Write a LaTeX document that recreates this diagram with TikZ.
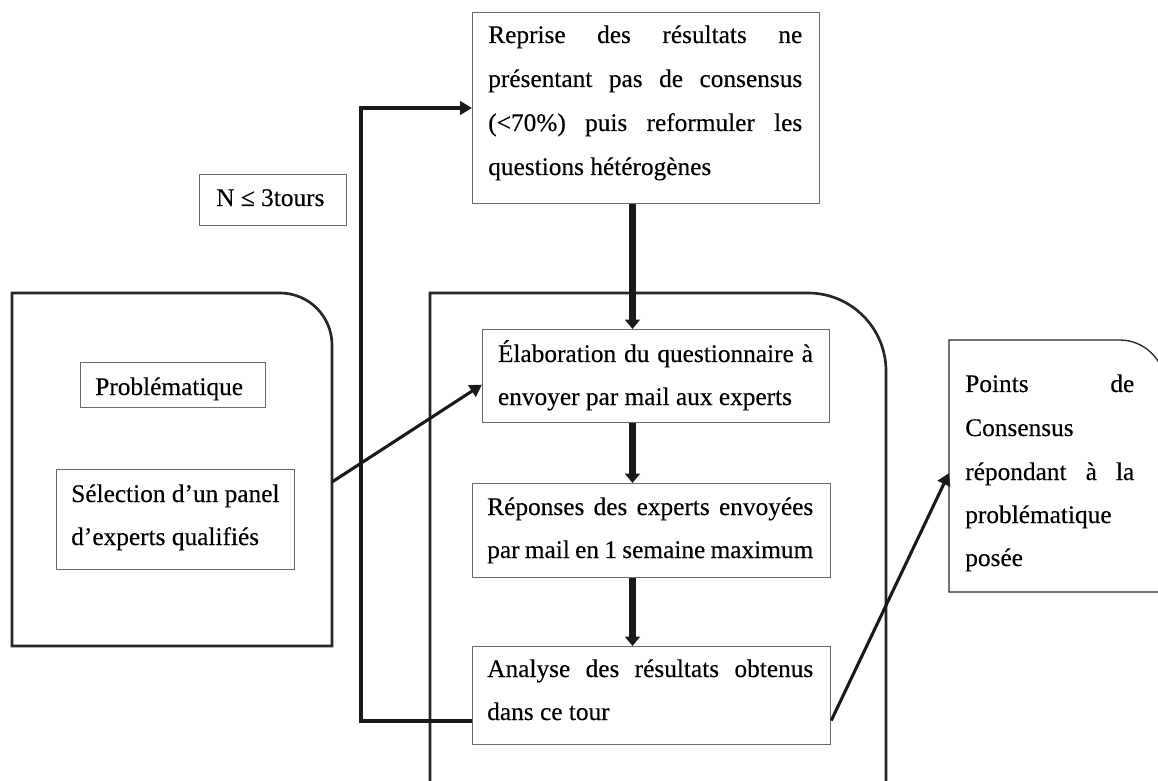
\documentclass[tikz,border=0pt]{standalone}
\usepackage{fontspec}
\setmainfont{Liberation Serif}[FakeBold=0.3]
\usetikzlibrary{arrows.meta}
\definecolor{boxgray}{HTML}{6A6A6A}
\definecolor{panelc}{HTML}{262626}
\begin{document}
\begin{tikzpicture}[x=0.75pt,y=-0.75pt,
  box/.style={draw=boxgray,line width=0.9pt,inner sep=0pt,anchor=north west},
  txt/.style={inner sep=0pt,anchor=base west,font=\fontsize{19}{33}\selectfont},
  panel/.style={draw=panelc,line width=2pt},
  link/.style={draw=black!90,line width=2.3pt,-{Triangle[length=9pt,width=10pt]}},
  flow/.style={draw=black!90,line width=5pt,-{Triangle[length=7pt,width=11pt]}}]
\useasboundingbox (0,0) rectangle (1158,781);
\clip (0,0) rectangle (1158,781);

% panels
\draw[panel] (12,646) -- (12,293) [rounded corners=39pt] -- (332,293) [rounded corners=0pt] -- (332,646) -- cycle;
\draw[panel] (430,785) -- (430,293) [rounded corners=58.5pt] -- (886,293) [rounded corners=0pt] -- (886,785);
\draw[draw=black!85,line width=1pt] (949,592) -- (949,340) [rounded corners=34pt] -- (1165,340) [rounded corners=0pt] -- (1165,592) -- cycle;

% boxes
\node[box,minimum width=260.25pt,minimum height=143.25pt] (top) at (472,12) {};
\node[box,minimum width=260.25pt,minimum height=69.75pt] (elab) at (482,329) {};
\node[box,minimum width=268.5pt,minimum height=70.5pt] (rep) at (472,483) {};
\node[box,minimum width=268.5pt,minimum height=73.5pt] (ana) at (472,646) {};
\node[box,minimum width=138.75pt,minimum height=33.75pt] (prob) at (80,362) {};
\node[box,minimum width=178.5pt,minimum height=75pt] (sel) at (56,469) {};
\node[box,minimum width=110.25pt,minimum height=38.25pt] (ntours) at (199,174) {};

% texts
\node[txt] (t1) at (488,43) {\makebox[235.5pt][s]{Reprise des résultats ne}};
\node[txt] (t2) at (488,87) {\makebox[235.5pt][s]{présentant pas de consensus}};
\node[txt] (t3) at (488,131) {\makebox[235.5pt][s]{(<70\%) puis reformuler les}};
\node[txt] (t4) at (488,175) {questions hétérogènes};

\node[txt] (e1) at (497.7,362) {\makebox[236.25pt][s]{Élaboration du questionnaire à}};
\node[txt] (e2) at (497.7,405) {envoyer par mail aux experts};

\node[txt] (r1) at (487,515) {\makebox[244.5pt][s]{Réponses des experts envoyées}};
\node[txt] (r2) at (487,558) {\makebox[244.5pt][s]{par mail en 1 semaine maximum}};

\node[txt] (a1) at (487,677) {\makebox[244.5pt][s]{Analyse des résultats obtenus}};
\node[txt] (a2) at (487,720) {dans ce tour};

\node[txt] (p0) at (95,395) {Problématique};
\node[txt] (s1) at (71,502) {Sélection d’un panel};
\node[txt] (s2) at (71,545) {d’experts qualifiés};
\node[txt] (n0) at (216,206) {N ≤ 3tours};

\node[txt] (c1) at (965,392) {\makebox[126.75pt][s]{Points de}};
\node[txt] (c2) at (965,436) {Consensus};
\node[txt] (c3) at (965,480) {\makebox[126.75pt][s]{répondant à la}};
\node[txt] (c4) at (965,523) {problématique};
\node[txt] (c5) at (965,566) {posée};

% connector coordinates
\coordinate (ax) at (632.5,0);
\coordinate (fbB) at (361,721);
\coordinate (fbT) at (361,108);
\coordinate (lp) at (332,482);
\coordinate (pts) at (949,473);

% connectors
\draw[flow] (ax |- top.south) -- (ax |- elab.north);
\draw[flow] (ax |- elab.south) -- (ax |- rep.north);
\draw[flow] (ax |- rep.south) -- (ax |- ana.north);
\draw[link,line width=2.6pt] (ana.west |- fbB) -- (fbB) -- (fbT) -- (top.west |- fbT);
\draw[link] (lp) -- ([yshift=-6.4pt]elab.west);
\draw[link] ([yshift=-18.75pt]ana.east) -- (pts);
\end{tikzpicture}
\end{document}
